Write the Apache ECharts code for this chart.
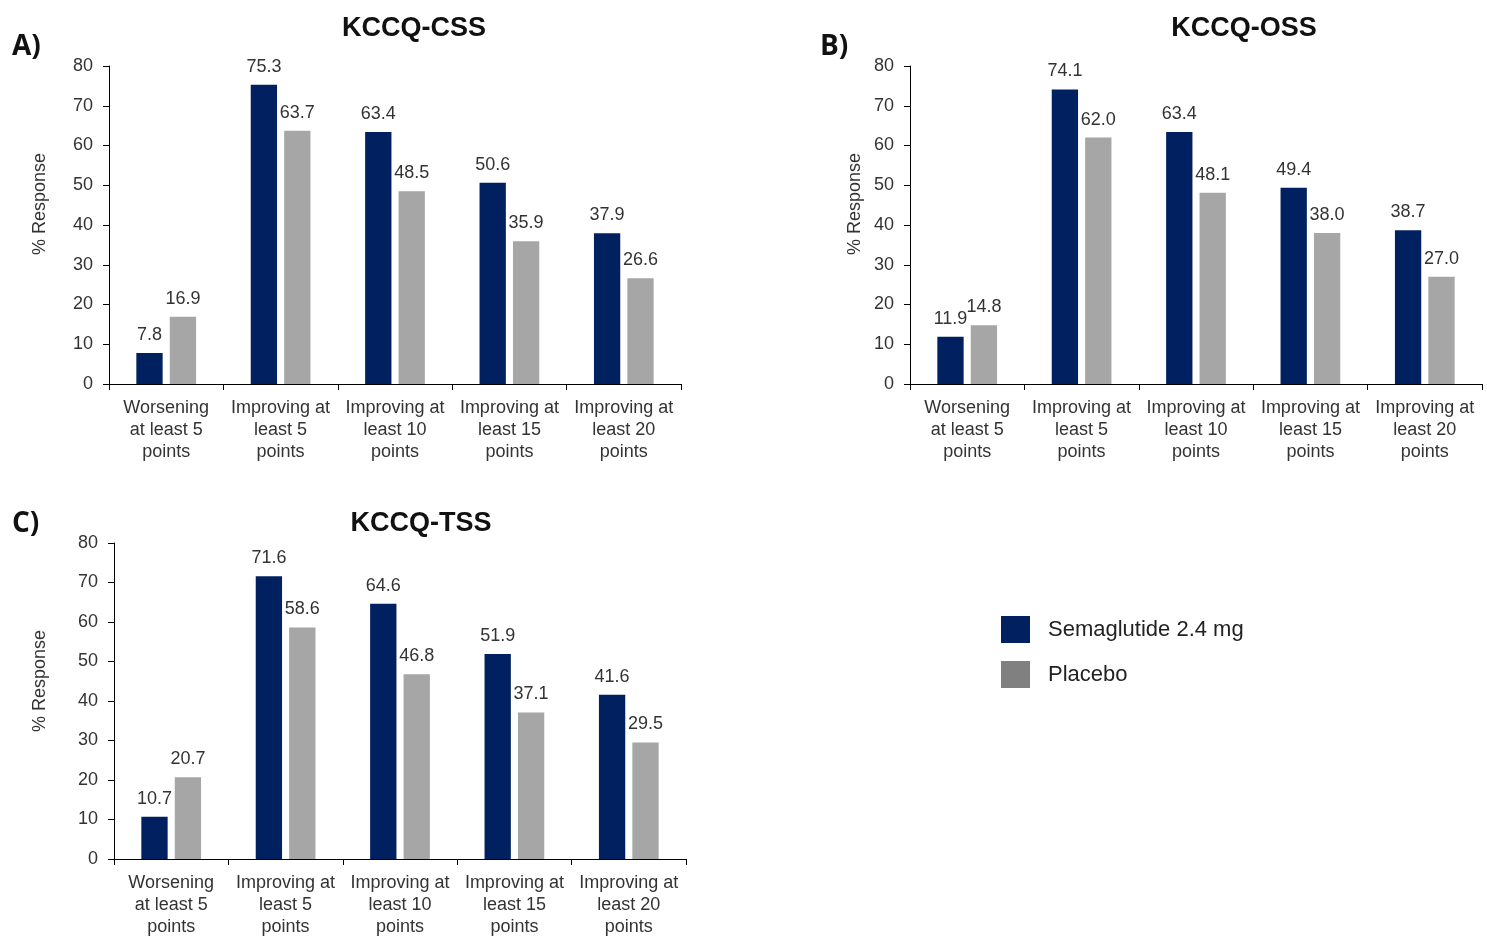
<!DOCTYPE html>
<html><head><meta charset="utf-8">
<script src="https://cdn.jsdelivr.net/npm/echarts@6/dist/echarts.min.js"></script>
<style>html,body{margin:0;padding:0;background:#fff}#c{width:1487px;height:938px}</style>
</head><body><div id="c"></div>
<script>
const categories = ["Worsening\nat least 5\npoints","Improving at\nleast 5\npoints","Improving at\nleast 10\npoints","Improving at\nleast 15\npoints","Improving at\nleast 20\npoints"];
const panelTitles = ["KCCQ-CSS","KCCQ-OSS","KCCQ-TSS"];
const panelLetters = ["A)","B)","C)"];
const semaCSS = [7.8,75.3,63.4,50.6,37.9];
const placCSS = [16.9,63.7,48.5,35.9,26.6];
const semaOSS = [11.9,74.1,63.4,49.4,38.7];
const placOSS = [14.8,62.0,48.1,38.0,27.0];
const semaTSS = [10.7,71.6,64.6,51.9,41.6];
const placTSS = [20.7,58.6,46.8,37.1,29.5];
const seriesNames = ["Semaglutide 2.4 mg","Placebo"];
const yAxisName = "% Response";
const yTicksMax = 80, yTickStep = 10;

const NAVY = '#002060', GRAY = '#A6A6A6', LEG_GRAY = '#808080', TXT = '#333333';
const font = '"Liberation Sans", Arial, sans-serif';
const grids = [
  {left:109, top:66, width:572, height:318},
  {left:910, top:66, width:572, height:318},
  {left:114, top:543, width:572, height:318}
];
const sema = [semaCSS, semaOSS, semaTSS];
const plac = [placCSS, placOSS, placTSS];
const titleCenters = [[414,29],[1244,29],[421,524]];
const letterPos = [[12,47],[820,47],[12,524]];
const yNamePos = [[40,204],[855,204],[40,681]];

const chart = echarts.init(document.getElementById('c'), null, {renderer:'canvas'});
const xAxis = [], yAxis = [], series = [], graphic = [];
grids.forEach((g,i)=>{
  xAxis.push({type:'category', gridIndex:i, data:categories,
    axisLine:{lineStyle:{color:'#000', width:1}},
    axisTick:{show:true, length:6, alignWithLabel:false, lineStyle:{color:'#000'}},
    axisLabel:{color:TXT, fontFamily:font, fontSize:18, lineHeight:22, margin:13, interval:0}
  });
  yAxis.push({type:'value', gridIndex:i, min:0, max:yTicksMax, interval:yTickStep,
    axisLine:{show:true, lineStyle:{color:'#000', width:1}},
    axisTick:{show:true, length:6, lineStyle:{color:'#000'}},
    splitLine:{show:false},
    axisLabel:{color:TXT, fontFamily:font, fontSize:18, margin:16}
  });
  const lbl = {show:true, position:'top', distance:9, color:TXT, fontFamily:font, fontSize:18, formatter:p=>p.value.toFixed(1)};
  series.push({name:seriesNames[0], type:'bar', xAxisIndex:i, yAxisIndex:i, data:sema[i], barWidth:'23%', barGap:'27%', itemStyle:{color:NAVY}, label:lbl});
  series.push({name:seriesNames[1], type:'bar', xAxisIndex:i, yAxisIndex:i, data:plac[i], barWidth:'23%', barGap:'27%', itemStyle:{color:GRAY}, label:lbl});
  graphic.push({type:'text', x:titleCenters[i][0], y:titleCenters[i][1],
    style:{text:panelTitles[i], fontFamily:font, fontSize:27, fontWeight:'bold', fill:'#111', textAlign:'center', textVerticalAlign:'middle'}});
  graphic.push({type:'text', x:letterPos[i][0], y:letterPos[i][1],
    style:{text:panelLetters[i], fontFamily:'"Open Sans", sans-serif', fontSize:28, fontWeight:'bold', fill:'#111', textAlign:'left', textVerticalAlign:'middle'}});
  graphic.push({type:'text', x:yNamePos[i][0], y:yNamePos[i][1], rotation:Math.PI/2,
    style:{text:yAxisName, fontFamily:font, fontSize:18, fill:TXT, textAlign:'center', textVerticalAlign:'middle'}});
});
chart.setOption({
  animation:false,
  grid:grids,
  xAxis, yAxis, series, graphic,
  legend:{orient:'vertical', left:1001, top:616, padding:0, itemWidth:29, itemHeight:27, itemGap:18, icon:'rect',
    textStyle:{fontFamily:font, fontSize:22, color:'#222', padding:[0,0,0,13]},
    data:[{name:seriesNames[0], itemStyle:{color:NAVY}},{name:seriesNames[1], itemStyle:{color:LEG_GRAY}}]}
});
</script></body></html>
